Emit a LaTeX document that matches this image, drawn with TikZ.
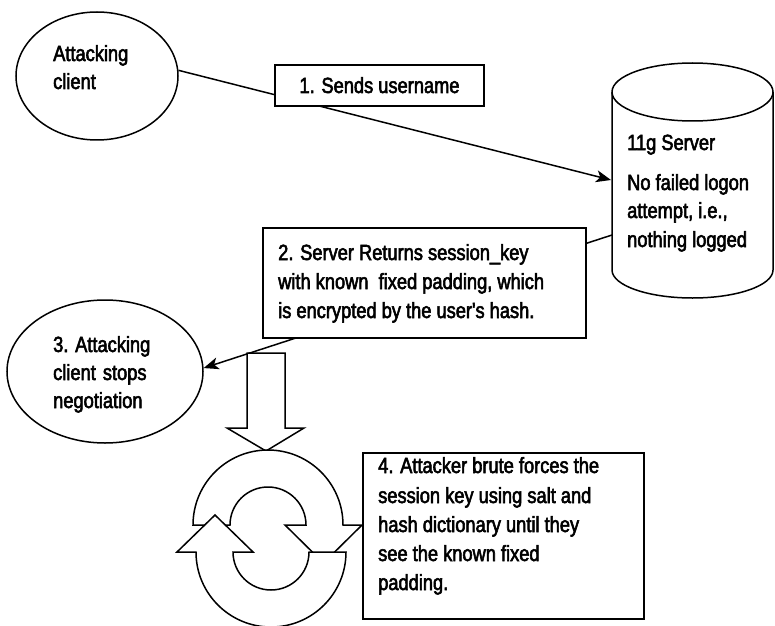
\documentclass[tikz,border=0pt]{standalone}
\usepackage{fontspec}
\setmainfont{Liberation Sans}[FakeStretch=0.83,FakeBold=2.5,Ligatures=TeXOff]
\usetikzlibrary{shapes.geometric,arrows.meta}
\newcommand{\fsz}{\fontsize{22pt}{27pt}\selectfont}
\begin{document}
\begin{tikzpicture}[x=1pt,y=1pt,
  txt/.style={inner sep=0pt, anchor=base west, font=\fsz},
  ell/.style={ellipse, draw, line width=1.5pt, fill=white, inner sep=0pt},
  lbox/.style={rectangle, draw, line width=1.5pt, fill=white, inner sep=0pt},
  conn/.style={line width=1.5pt},
  tipend/.style={-{Stealth[length=15pt,width=12pt,inset=4pt]}},
  shape3d/.style={draw, line width=1.5pt, fill=white, line join=miter}]
\useasboundingbox (0,0) rectangle (775,625);
\fill[white] (0,0) rectangle (775,625);

% ellipses
\node[ell, minimum width=162pt, minimum height=128pt] (e1) at (97,549) {};
\node[ell, minimum width=196pt, minimum height=143pt] (e3) at (105,253.5) {};

% cylinder (server)
\draw[shape3d] (612,533) -- (612,355)
  arc[start angle=180,end angle=360,x radius=80.5pt,y radius=28pt]
  -- (773,533)
  arc[start angle=0,end angle=180,x radius=80.5pt,y radius=29pt] -- cycle;
\draw[conn] (612,533) arc[start angle=180,end angle=360,x radius=80.5pt,y radius=29pt];
\coordinate (cA) at (611,445);
\coordinate (cB) at (612,390);

% connectors
\draw[conn, tipend] (e1.4) -- (cA);
\draw[conn, tipend] (cB) -- (e3.2);

% label boxes
\node[lbox, minimum width=209pt, minimum height=41pt] (b1) at (379.5,539.5) {};
\node[lbox, minimum width=323pt, minimum height=110pt] (b2) at (424.5,342) {};
\node[lbox, minimum width=281pt, minimum height=166pt] (b4) at (503.5,89) {};

% block arrow down
\draw[shape3d] (247,272) -- (285,272) -- (285,197) -- (304,197) -- (266,174)
  -- (227,197) -- (247,197) -- cycle;

% circular arrows
\draw[shape3d] (193,100) arc[start angle=180,end angle=0,radius=75pt]
  -- (362,100) -- (323.5,62) -- (285,100) -- (306,100)
  arc[start angle=0,end angle=180,radius=38pt] -- cycle;
\draw[shape3d] (346,73) arc[start angle=0,end angle=-180,radius=75pt]
  -- (177,73) -- (215,110) -- (253,73) -- (233,73)
  arc[start angle=180,end angle=360,radius=38pt] -- cycle;

% texts
\node[txt] (t1a) at (53,564) {Attacking};
\node[txt] (t1b) at (53,536) {client};
\node[txt, anchor=base] (tb1) at (379.5,532) {1. Sends username};
\node[txt] (tsa) at (627,475) {11g Server};
\node[txt] (tsb) at (627,435) {No failed logon};
\node[txt] (tsc) at (627,407) {attempt, i.e.,};
\node[txt] (tsd) at (627,378) {nothing logged};
\node[txt] (t2a) at (278,365) {2. Server Returns session\_key};
\node[txt] (t2b) at (278,336) {with known\ \ fixed padding, which};
\node[txt] (t2c) at (278,307) {is encrypted by the user's hash.};
\node[txt] (t3a) at (53,273) {3. Attacking};
\node[txt] (t3b) at (53,245) {client\hspace{2pt} stops};
\node[txt] (t3c) at (53,217) {negotiation};
\node[txt] (t4a) at (378,152) {4. Attacker brute forces the};
\node[txt] (t4b) at (378,122) {session key using salt and};
\node[txt] (t4c) at (378,93) {hash dictionary until they};
\node[txt] (t4d) at (378,64) {see the known fixed};
\node[txt] (t4e) at (378,35) {padding.};
\end{tikzpicture}
\end{document}
